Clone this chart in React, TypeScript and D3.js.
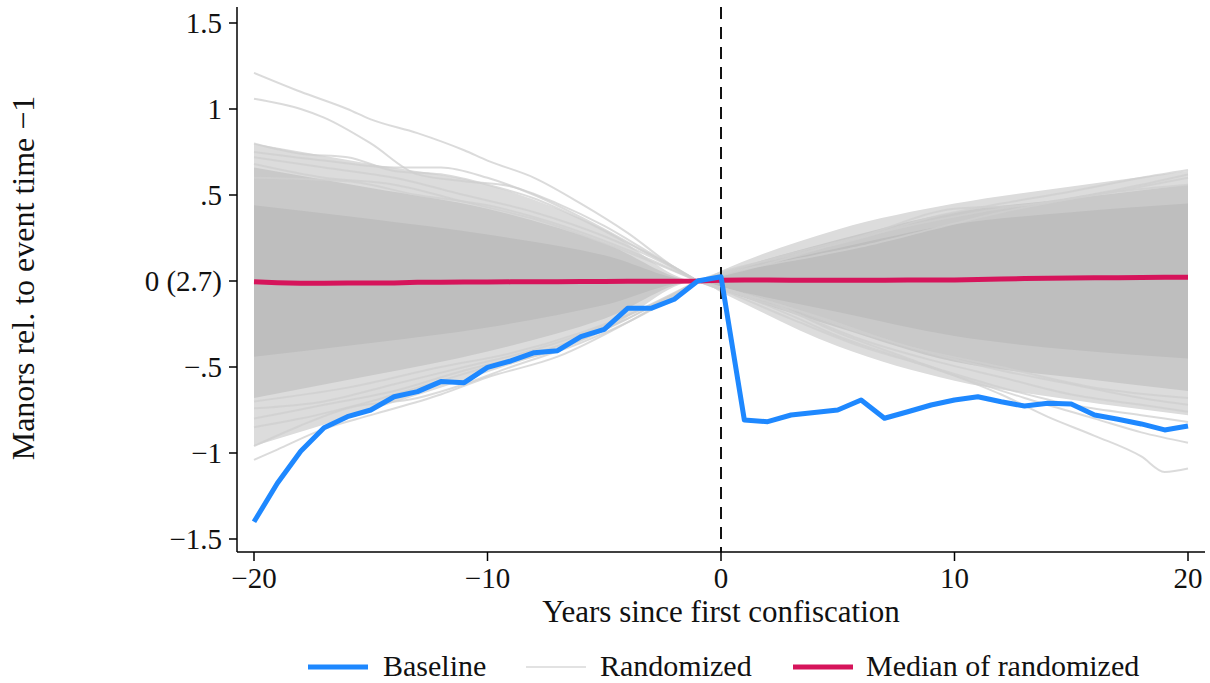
import React from "react";
import * as d3 from "d3";

// Event-time grid
const years: number[] = d3.range(-20, 21);

// Baseline estimate, manors relative to event time −1
const baseline: number[] = [
  -1.4, -1.176, -0.99, -0.853, -0.789, -0.75, -0.673, -0.643, -0.585, -0.591,
  -0.502, -0.465, -0.417, -0.405, -0.324, -0.281, -0.159, -0.159, -0.106, 0.0,
  0.025,
  -0.808, -0.818, -0.779, -0.764, -0.75, -0.692, -0.798, -0.76, -0.721, -0.692,
  -0.673, -0.702, -0.727, -0.711, -0.715, -0.779, -0.804, -0.831, -0.866, -0.843,
];

// Median across randomized placebo runs
const medianRandomized: number[] = [
  -0.005, -0.01, -0.013, -0.013, -0.012, -0.011, -0.012, -0.007, -0.007, -0.006,
  -0.006, -0.005, -0.004, -0.004, -0.003, -0.003, -0.002, -0.001, -0.001, 0.0,
  0.005,
  0.006, 0.006, 0.005, 0.005, 0.004, 0.005, 0.005, 0.006, 0.006, 0.006,
  0.009, 0.012, 0.014, 0.016, 0.018, 0.019, 0.019, 0.021, 0.022, 0.022,
];

// Spread of the randomized runs (dense core, bulk, outer fringe)
const bandYears: number[] = [-20, -15, -10, -5, -1, 0, 5, 10, 15, 20];
const coreHigh: number[] = [0.44, 0.36, 0.27, 0.15, 0.0, 0.035, 0.19, 0.33, 0.4, 0.45];
const coreLow: number[] = [-0.44, -0.36, -0.27, -0.14, 0.0, -0.035, -0.18, -0.32, -0.4, -0.45];
const bulkHigh: number[] = [0.66, 0.54, 0.42, 0.22, 0.0, 0.045, 0.24, 0.4, 0.48, 0.56];
const bulkLow: number[] = [-0.68, -0.55, -0.41, -0.22, 0.0, -0.05, -0.27, -0.47, -0.56, -0.64];
const fringeHigh: number[] = [0.8, 0.68, 0.56, 0.3, 0.0, 0.06, 0.3, 0.45, 0.55, 0.64];
const fringeLow: number[] = [-0.96, -0.75, -0.53, -0.29, 0.0, -0.065, -0.38, -0.58, -0.69, -0.78];

// Individual randomized runs traced through the fringe: [year, value]
const randomizedRuns: [number, number][][] = [
  [[-20, 1.21], [-18, 1.1], [-16, 1.0], [-15, 0.94], [-13, 0.86], [-11, 0.76], [-10, 0.7], [-8, 0.6], [-6, 0.45], [-4, 0.28], [-2, 0.08], [-1, 0]],
  [[-20, 1.06], [-18, 1.0], [-17, 0.95], [-15, 0.8], [-13, 0.62], [-11, 0.58], [-9, 0.55], [-7, 0.45], [-5, 0.32], [-3, 0.16], [-1, 0]],
  [[-20, 0.8], [-18, 0.74], [-16, 0.72], [-14, 0.64], [-12, 0.62], [-10, 0.56], [-8, 0.48], [-6, 0.36], [-4, 0.22], [-2, 0.08], [-1, 0]],
  [[-20, 0.75], [-17, 0.7], [-14, 0.66], [-12, 0.66], [-10, 0.6], [-8, 0.5], [-5, 0.3], [-3, 0.15], [-1, 0]],
  [[-20, 0.72], [-17, 0.66], [-14, 0.6], [-11, 0.5], [-8, 0.4], [-5, 0.26], [-3, 0.14], [-1, 0]],
  [[-20, 0.68], [-17, 0.6], [-14, 0.56], [-11, 0.46], [-8, 0.36], [-5, 0.22], [-1, 0]],
  [[-20, 0.6], [-16, 0.58], [-13, 0.5], [-10, 0.44], [-7, 0.33], [-4, 0.18], [-1, 0]],
  [[-20, -1.04], [-19, -0.98], [-17, -0.86], [-15, -0.78], [-12, -0.66], [-10, -0.56], [-7, -0.44], [-4, -0.24], [-1, 0]],
  [[-20, -0.96], [-18, -0.84], [-16, -0.74], [-13, -0.68], [-11, -0.6], [-9, -0.5], [-6, -0.36], [-3, -0.17], [-1, 0]],
  [[-20, -0.85], [-18, -0.8], [-15, -0.7], [-12, -0.58], [-10, -0.5], [-7, -0.4], [-4, -0.22], [-1, 0]],
  [[-20, -0.8], [-17, -0.72], [-14, -0.64], [-11, -0.52], [-8, -0.42], [-5, -0.28], [-1, 0]],
  [[-20, -0.74], [-17, -0.7], [-14, -0.6], [-11, -0.5], [-8, -0.4], [-5, -0.26], [-1, 0]],
  [[-20, -0.7], [-16, -0.62], [-12, -0.5], [-9, -0.42], [-6, -0.3], [-3, -0.14], [-1, 0]],
  [[-1, 0], [0, -0.05], [2, -0.12], [5, -0.3], [8, -0.45], [10, -0.55], [12, -0.66], [14, -0.79], [16, -0.9], [18, -1.02], [19, -1.11], [20, -1.09]],
  [[-1, 0], [0, -0.04], [3, -0.2], [5, -0.32], [8, -0.46], [10, -0.55], [13, -0.68], [16, -0.8], [18, -0.88], [20, -0.94]],
  [[-1, 0], [0, -0.05], [3, -0.22], [6, -0.38], [9, -0.5], [12, -0.62], [15, -0.72], [18, -0.78], [20, -0.82]],
  [[-1, 0], [3, -0.16], [6, -0.3], [9, -0.42], [12, -0.52], [15, -0.6], [18, -0.68], [20, -0.72]],
  [[-1, 0], [3, -0.18], [6, -0.34], [9, -0.46], [12, -0.56], [15, -0.66], [18, -0.72], [20, -0.76]],
  [[-1, 0], [4, -0.2], [8, -0.38], [12, -0.5], [16, -0.62], [20, -0.68]],
  [[-1, 0], [0, 0.05], [3, 0.15], [6, 0.25], [9, 0.37], [12, 0.45], [15, 0.52], [18, 0.6], [20, 0.645]],
  [[-1, 0], [0, 0.04], [3, 0.12], [6, 0.2], [9, 0.3], [12, 0.4], [15, 0.48], [18, 0.56], [20, 0.62]],
  [[-1, 0], [2, 0.1], [5, 0.22], [8, 0.32], [11, 0.4], [14, 0.46], [17, 0.52], [20, 0.56]],
  [[-1, 0], [3, 0.16], [6, 0.26], [10, 0.42], [13, 0.44], [16, 0.5], [20, 0.6]],
];

const yTickValues: number[] = [-1.5, -1, -0.5, 0, 0.5, 1, 1.5];
const yTickLabels: string[] = ["−1.5", "−1", "−.5", "0 (2.7)", ".5", "1", "1.5"];
const xTickValues: number[] = [-20, -10, 0, 10, 20];
const xTickLabels: string[] = ["−20", "−10", "0", "10", "20"];

const legendItems: { label: string; color: string; width: number }[] = [
  { label: "Baseline", color: "#1e88ff", width: 5 },
  { label: "Randomized", color: "#e2e2e2", width: 2 },
  { label: "Median of randomized", color: "#d6145b", width: 5 },
];

const W = 1210;
const H = 683;
const FONT = "'Liberation Serif', 'Times New Roman', serif";

export default function App() {
  const x = d3.scaleLinear().domain([-20, 20]).range([254, 1188]);
  const y = d3.scaleLinear().domain([-1.5, 1.5]).range([539, 23]);

  const axisX = 237;
  const axisY = 552;

  const bandArea = (hi: number[], lo: number[]) =>
    d3
      .area<number>()
      .x((_, i) => x(bandYears[i]))
      .y0((_, i) => y(lo[i]))
      .y1((_, i) => y(hi[i]))
      .curve(d3.curveMonotoneX)(bandYears) || "";

  const seriesLine = (vals: number[]) =>
    d3
      .line<number>()
      .x((_, i) => x(years[i]))
      .y((v) => y(v))(vals) || "";

  const runLine = d3
    .line<[number, number]>()
    .x((d) => x(d[0]))
    .y((d) => y(d[1]))
    .curve(d3.curveMonotoneX);

  const legendY = 667;
  const swatchX = [308, 526, 793];
  const labelX = [383, 600, 866];

  return (
    <svg
      width={W}
      height={H}
      style={{ position: "absolute", left: 0, top: 0, background: "#fff" }}
    >
      <rect x={0} y={0} width={W} height={H} fill="#fff" />

      {/* randomized runs */}
      <path d={bandArea(fringeHigh, fringeLow)} fill="#dcdcdc" />
      <path d={bandArea(bulkHigh, bulkLow)} fill="#c9c9c9" />
      <path d={bandArea(coreHigh, coreLow)} fill="#bebebe" />
      {randomizedRuns.map((run, i) => (
        <path
          key={i}
          d={runLine(run) || ""}
          fill="none"
          stroke="#cfcfcf"
          strokeOpacity={0.75}
          strokeWidth={2}
        />
      ))}

      {/* event time zero */}
      <line
        x1={x(0)}
        x2={x(0)}
        y1={7}
        y2={axisY}
        stroke="#111"
        strokeWidth={2}
        strokeDasharray="12,8"
      />

      {/* median and baseline */}
      <path
        d={seriesLine(medianRandomized)}
        fill="none"
        stroke="#d6145b"
        strokeWidth={5}
        strokeLinejoin="round"
      />
      <path
        d={seriesLine(baseline)}
        fill="none"
        stroke="#1e88ff"
        strokeWidth={5}
        strokeLinejoin="round"
      />

      {/* y axis */}
      <line x1={axisX} x2={axisX} y1={7} y2={axisY} stroke="#000" strokeWidth={1.5} />
      {yTickValues.map((v, i) => (
        <g key={v}>
          <line x1={axisX - 8} x2={axisX} y1={y(v)} y2={y(v)} stroke="#000" strokeWidth={1.5} />
          <text
            x={222}
            y={y(v)}
            dy="0.35em"
            textAnchor="end"
            fontFamily={FONT}
            fontSize={29}
            fill="#111"
          >
            {yTickLabels[i]}
          </text>
        </g>
      ))}
      <text
        transform={`translate(34, ${278}) rotate(-90)`}
        textAnchor="middle"
        fontFamily={FONT}
        fontSize={32}
        fill="#111"
      >
        Manors rel. to event time −1
      </text>

      {/* x axis */}
      <line x1={axisX} x2={1205} y1={axisY} y2={axisY} stroke="#000" strokeWidth={1.5} />
      {xTickValues.map((v, i) => (
        <g key={v}>
          <line x1={x(v)} x2={x(v)} y1={axisY} y2={axisY + 9} stroke="#000" strokeWidth={1.5} />
          <text
            x={x(v)}
            y={588}
            textAnchor="middle"
            fontFamily={FONT}
            fontSize={29}
            fill="#111"
          >
            {xTickLabels[i]}
          </text>
        </g>
      ))}
      <text
        x={x(0)}
        y={622}
        textAnchor="middle"
        fontFamily={FONT}
        fontSize={31}
        fill="#111"
      >
        Years since first confiscation
      </text>

      {/* legend */}
      {legendItems.map((item, i) => (
        <g key={item.label}>
          <line
            x1={swatchX[i]}
            x2={swatchX[i] + 60}
            y1={legendY}
            y2={legendY}
            stroke={item.color}
            strokeWidth={item.width}
          />
          <text
            x={labelX[i]}
            y={legendY + 9}
            fontFamily={FONT}
            fontSize={30}
            fill="#111"
          >
            {item.label}
          </text>
        </g>
      ))}
    </svg>
  );
}
